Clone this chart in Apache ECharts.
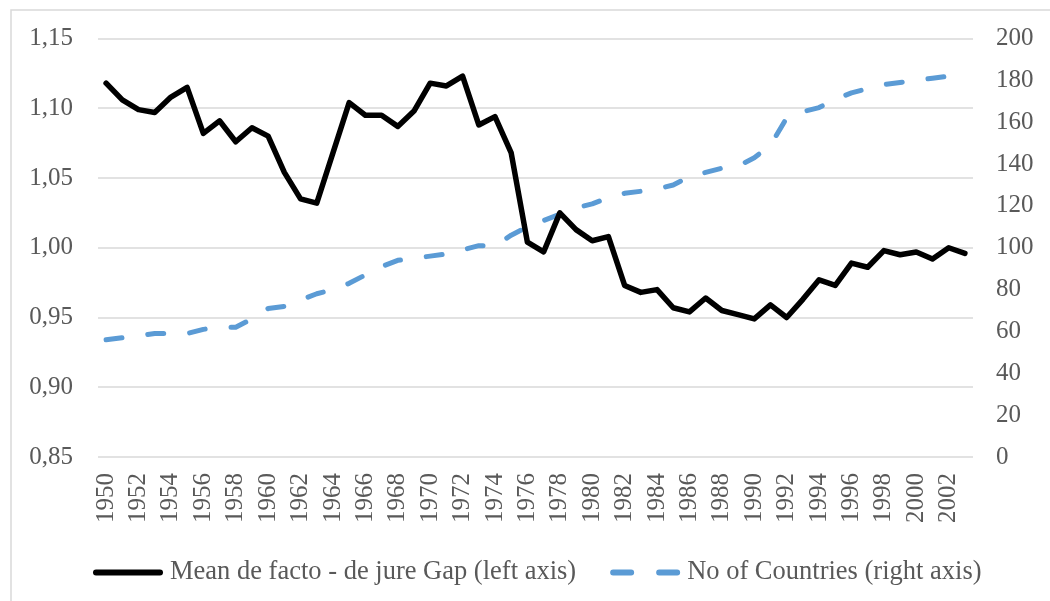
<!DOCTYPE html>
<html>
<head>
<meta charset="utf-8">
<script src="https://cdn.jsdelivr.net/npm/echarts@6/dist/echarts.min.js"></script>
<style>
html,body{margin:0;padding:0;background:#fff;}
#chart{width:1050px;height:601px;}
</style>
</head>
<body>
<div id="chart"></div>
<script>
var years = ['1950','1951','1952','1953','1954','1955','1956','1957','1958','1959',
  '1960','1961','1962','1963','1964','1965','1966','1967','1968','1969',
  '1970','1971','1972','1973','1974','1975','1976','1977','1978','1979',
  '1980','1981','1982','1983','1984','1985','1986','1987','1988','1989',
  '1990','1991','1992','1993','1994','1995','1996','1997','1998','1999',
  '2000','2001','2002','2003'];
var gapValues = [1.118,1.106,1.099,1.097,1.108,1.115,1.082,1.091,1.076,1.086,
  1.080,1.054,1.035,1.032,1.068,1.104,1.095,1.095,1.087,1.098,
  1.118,1.116,1.123,1.088,1.094,1.068,1.004,0.997,1.025,1.013,
  1.005,1.008,0.973,0.968,0.970,0.957,0.954,0.964,0.955,0.952,
  0.949,0.959,0.950,0.963,0.977,0.973,0.989,0.986,0.998,0.995,
  0.997,0.992,1.000,0.996];
var countryValues = [56,57,58,59,59,59,61,62,62,66,
  71,72,75,78,80,83,87,91,94,95,
  96,97,99,101,101,106,110,113,116,119,
  121,124,126,127,128,130,134,136,138,139,
  143,149,162,165,167,171,174,176,178,179,
  180,181,182,183];
var leftTicks = {min:0.85, max:1.15, interval:0.05};
var rightTicks = {min:0, max:200, interval:20};
var seriesNames = ['Mean de facto - de jure Gap (left axis)','No of Countries (right axis)'];

var font = "'Liberation Serif', 'Times New Roman', serif";
var txt = '#595959';
var solidIcon = 'path://M3,0 H67 A3,3 0 0 1 67,6 H3 A3,3 0 0 1 3,0 Z';
var dashIcon = 'path://M3,0 H21 A3,3 0 0 1 21,6 H3 A3,3 0 0 1 3,0 Z M49,0 H67 A3,3 0 0 1 67,6 H49 A3,3 0 0 1 49,0 Z';
var chart = echarts.init(document.getElementById('chart'), null, {renderer:'canvas'});
chart.setOption({
  animation:false,
  backgroundColor:'#fff',
  graphic:[{type:'rect', shape:{x:11, y:10, width:1100, height:700},
    style:{fill:'none', stroke:'#d9d9d9', lineWidth:1.5}, silent:true, z:-1}],
  grid:{left:98, right:77, top:38.5, bottom:144, containLabel:false},
  legend:{
    left:88, top:554, itemWidth:70, itemHeight:6, itemGap:34,
    textStyle:{fontFamily:font, fontSize:26.5, color:txt, padding:[0,0,0,2]},
    data:[{name:seriesNames[0], icon:solidIcon, itemStyle:{color:'#000000'}},
          {name:seriesNames[1], icon:dashIcon, itemStyle:{color:'#5b9bd5'}}]
  },
  xAxis:{type:'category', data:years, boundaryGap:true,
    axisLine:{show:false}, axisTick:{show:false},
    axisLabel:{interval:1, rotate:90, margin:16, fontFamily:font, fontSize:25, color:txt}
  },
  yAxis:[
    {type:'value', min:leftTicks.min, max:leftTicks.max, interval:leftTicks.interval,
     axisLine:{show:false}, axisTick:{show:false},
     splitLine:{show:true, lineStyle:{color:'#d9d9d9', width:1.5}},
     axisLabel:{margin:25, fontFamily:font, fontSize:25, color:txt,
       formatter:function(v){return v.toFixed(2).replace('.',',');}}
    },
    {type:'value', min:rightTicks.min, max:rightTicks.max, interval:rightTicks.interval,
     position:'right',
     axisLine:{show:false}, axisTick:{show:false}, splitLine:{show:false},
     axisLabel:{margin:23, fontFamily:font, fontSize:25, color:txt}
    }
  ],
  series:[
    {name:seriesNames[0], type:'line', yAxisIndex:0, data:gapValues,
     symbol:'none', showSymbol:false, z:3,
     lineStyle:{color:'#000000', width:5.5, cap:'round', join:'round'},
     itemStyle:{color:'#000000'}},
    {name:seriesNames[1], type:'line', yAxisIndex:1, data:countryValues,
     symbol:'none', showSymbol:false, z:2,
     lineStyle:{color:'#5b9bd5', width:5, type:[16,26], cap:'round', join:'round'},
     itemStyle:{color:'#5b9bd5'}}
  ]
});
</script>
</body>
</html>
